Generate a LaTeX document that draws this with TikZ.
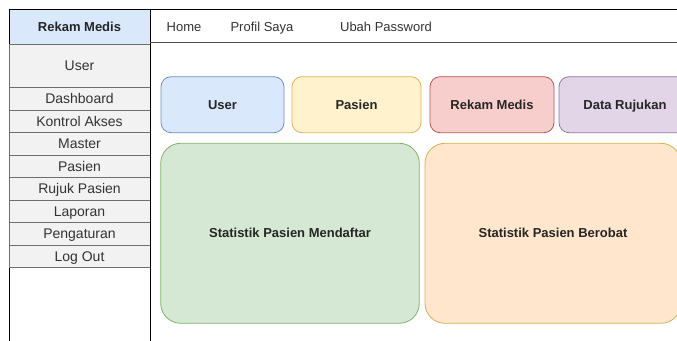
\documentclass[tikz,border=0pt]{standalone}
\usepackage{fontspec}
\setmainfont{Liberation Sans}
\definecolor{HeadBlue}{HTML}{DAE8FC}
\definecolor{SideGray}{HTML}{F2F2F2}
\definecolor{SideLine}{HTML}{6E6E6E}
\definecolor{BarLine}{HTML}{4D4D4D}
\definecolor{TextGray}{HTML}{333333}
\definecolor{UserFill}{HTML}{DAE8FC}
\definecolor{UserLine}{HTML}{6C8EBF}
\definecolor{PasFill}{HTML}{FFF2CC}
\definecolor{PasLine}{HTML}{D6B656}
\definecolor{RekFill}{HTML}{F8CECC}
\definecolor{RekLine}{HTML}{B85450}
\definecolor{RujFill}{HTML}{E1D5E7}
\definecolor{RujLine}{HTML}{9673A6}
\definecolor{GreenFill}{HTML}{D5E8D4}
\definecolor{GreenLine}{HTML}{82B366}
\definecolor{OrangeFill}{HTML}{FFE6CC}
\definecolor{OrangeLine}{HTML}{D7B04A}

\begin{document}
\begin{tikzpicture}[x=1pt, y=-1pt,
  lbl/.style={font=\fontsize{13}{15}\selectfont, text height=9.3pt, text depth=0pt, inner sep=0pt, outer sep=0pt},
  menuitem/.style={lbl, font=\fontsize{14}{16}\selectfont, text height=10pt, draw=SideLine, fill=SideGray, text=TextGray, minimum width=141pt, minimum height=22.5pt},
  card/.style={lbl, font=\bfseries\fontsize{13}{15}\selectfont, text=black!85, rounded corners=10pt, line width=0.8pt, minimum height=56pt},
  bigcard/.style={card, rounded corners=20pt, minimum height=180pt}]
  \clip (0,0) rectangle (677,340);
  % Sidebar
  \draw[fill=white] (9,9.3) rectangle (150,350);
  \node[menuitem, draw=black, fill=HeadBlue, text=black!85, font=\bfseries\fontsize{13}{15}\selectfont, text height=9.3pt, minimum height=35pt] (sbhead) at (79.5,26.8) {Rekam Medis};
  \node[menuitem, minimum height=43.2pt] (sbuser) at (79.5,65.9) {User};
  \foreach \item [count=\i] in {Dashboard, Kontrol Akses, Master, Pasien, Rujuk Pasien, Laporan, Pengaturan, Log Out}
    \node[menuitem] (menu\i) at (79.5, {76.25+22.5*\i}) {\item};
  \draw (150,9.3) -- (150,350);
  % Top bar
  \draw (150,9.3) -- (680,9.3);
  \draw[BarLine, line width=1.3pt] (150,42.7) -- (680,42.7);
  \node[lbl, text=TextGray] (home) at (184,27) {Home};
  \node[lbl, text=TextGray] (profil) at (262,27) {Profil Saya};
  \node[lbl, text=TextGray] (passwd) at (386,27) {Ubah Password};
  % Summary cards
  \node[card, fill=UserFill, draw=UserLine, minimum width=123pt] (cuser) at (222.5,104.7) {User};
  \node[card, fill=PasFill, draw=PasLine, minimum width=129pt] (cpasien) at (356.5,104.7) {Pasien};
  \node[card, fill=RekFill, draw=RekLine, minimum width=124pt] (crekam) at (492,104.7) {Rekam Medis};
  \node[card, fill=RujFill, draw=RujLine, minimum width=132pt] (crujuk) at (625,104.7) {Data Rujukan};
  % Statistics
  \node[bigcard, fill=GreenFill, draw=GreenLine, minimum width=258.6pt] (statdaftar) at (290,233.3) {Statistik Pasien Mendaftar};
  \node[bigcard, fill=OrangeFill, draw=OrangeLine, minimum width=256pt] (statobat) at (553,233.3) {Statistik Pasien Berobat};
\end{tikzpicture}
\end{document}
